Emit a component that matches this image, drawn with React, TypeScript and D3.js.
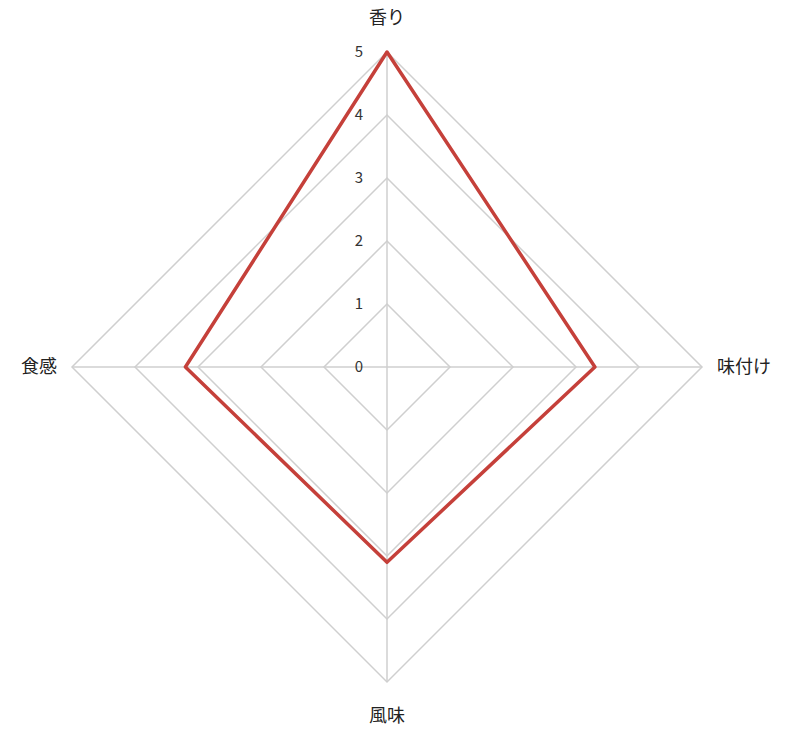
import React, { useRef, useEffect } from 'react';
import * as d3 from 'd3';

const axisNames = ['香り', '味付け', '風味', '食感'];
const scoreValues = [5, 3.3, 3.1, 3.2];
const tickLevels = [0, 1, 2, 3, 4, 5];

const width = 800;
const height = 736;
const center = { x: 387, y: 367 };
const radius = 315;

const RadarD3 = () => {
  const svgRef = useRef(null);

  useEffect(() => {
    const svg = d3.select(svgRef.current);
    svg.selectAll('*').remove();

    const rScale = d3.scaleLinear().domain([0, 5]).range([0, radius]);
    const angle = (i: number) => (i / axisNames.length) * Math.PI * 2;

    const g = svg
      .append('g')
      .attr('transform', `translate(${center.x}, ${center.y})`);

    const radial = d3
      .lineRadial<number>()
      .angle((_, i) => angle(i))
      .radius((d) => rScale(d))
      .curve(d3.curveLinearClosed);

    // grid rings
    g.selectAll('.ring')
      .data(tickLevels.filter((t) => t > 0))
      .enter()
      .append('path')
      .attr('class', 'ring')
      .attr('d', (t) => radial(axisNames.map(() => t)))
      .attr('fill', 'none')
      .attr('stroke', '#cfcfcf')
      .attr('stroke-width', 1.5);

    // spokes
    g.selectAll('.spoke')
      .data(axisNames)
      .enter()
      .append('line')
      .attr('class', 'spoke')
      .attr('x1', 0)
      .attr('y1', 0)
      .attr('x2', (_, i) => Math.sin(angle(i)) * rScale(5))
      .attr('y2', (_, i) => -Math.cos(angle(i)) * rScale(5))
      .attr('stroke', '#cfcfcf')
      .attr('stroke-width', 1.5);

    // tick labels
    g.selectAll('.tick')
      .data(tickLevels)
      .enter()
      .append('text')
      .attr('class', 'tick')
      .attr('x', -28)
      .attr('y', (t) => -rScale(t))
      .attr('dy', '0.35em')
      .attr('text-anchor', 'middle')
      .attr('font-size', 15)
      .attr('fill', '#333')
      .text((t) => t);

    // data
    g.append('path')
      .attr('d', radial(scoreValues))
      .attr('fill', 'none')
      .attr('stroke', '#c5403a')
      .attr('stroke-width', 3.5)
      .attr('stroke-linejoin', 'round');

    // axis labels
    g.selectAll('.axis-label')
      .data(axisNames)
      .enter()
      .append('text')
      .attr('class', 'axis-label')
      .attr('x', (_, i) => Math.sin(angle(i)) * (rScale(5) + 15))
      .attr('y', (_, i) => -Math.cos(angle(i)) * (rScale(5) + 34))
      .attr('dy', '0.35em')
      .attr('text-anchor', (_, i) => {
        const s = Math.sin(angle(i));
        return Math.abs(s) < 0.01 ? 'middle' : s > 0 ? 'start' : 'end';
      })
      .attr('font-size', 18)
      .attr('fill', '#222')
      .text((d) => d);
  }, []);

  return (
    <svg
      ref={svgRef}
      width={width}
      height={height}
      style={{ position: 'absolute', left: 0, top: 0, fontFamily: '"Noto Sans CJK JP", "Noto Sans", sans-serif' }}
    />
  );
};

export default function App() {
  return <RadarD3 />;
}
